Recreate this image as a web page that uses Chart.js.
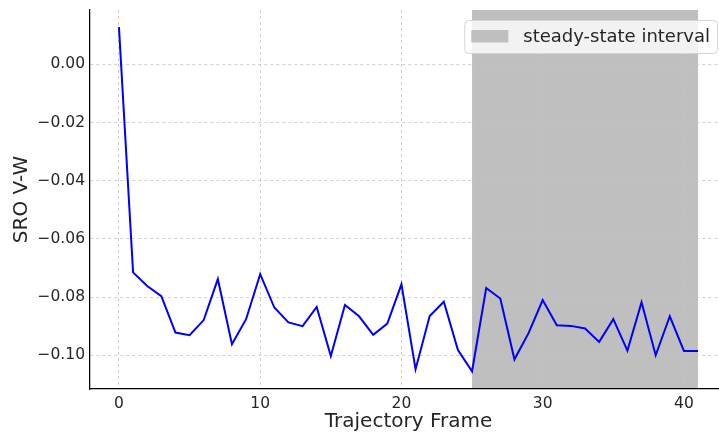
<!DOCTYPE html>
<html>
<head>
<meta charset="utf-8">
<script src="https://cdn.jsdelivr.net/npm/chart.js@4/dist/chart.umd.min.js"></script>
<style>
    html, body { margin: 0; padding: 0; overflow: hidden; background: #fff; }
    #wrap { width: 727px; height: 434px; }
</style>
</head>
<body>
<div id="wrap"><canvas id="chart"></canvas></div>
<script>
// trajectory frames and SRO values
const frames = [0, 1, 2, 3, 4, 5, 6, 7, 8, 9, 10, 11, 12, 13, 14, 15, 16, 17, 18, 19, 20,
    21, 22, 23, 24, 25, 26, 27, 28, 29, 30, 31, 32, 33, 34, 35, 36, 37, 38, 39, 40, 41]
const sroValues = [0.0128, -0.0715, -0.0762, -0.0797, -0.0922, -0.0931, -0.0879, -0.0738,
    -0.0962, -0.0876, -0.0721, -0.0836, -0.0887, -0.0900, -0.0834, -0.1003, -0.0827,
    -0.0866, -0.0930, -0.0891, -0.0756, -0.1048, -0.0865, -0.0816, -0.0982, -0.1055,
    -0.0769, -0.0805, -0.1014, -0.0924, -0.0810, -0.0897, -0.0899, -0.0908, -0.0954,
    -0.0876, -0.0984, -0.0818, -0.1000, -0.0866, -0.0985, -0.0985]

const steadyStart = 25
const steadyEnd = 41
const legendLabel = 'steady-state interval'

const xTicks = [0, 10, 20, 30, 40]
const yTicks = [0.00, -0.02, -0.04, -0.06, -0.08, -0.10]

const FONT = 'DejaVu Sans'
const TEXT = '#262626'

// grey band behind the grid, like axvspan
const spanPlugin = {
    id: 'steadySpan',
    beforeDraw(chart) {
        const { ctx, chartArea, scales } = chart
        const x0 = scales.x.getPixelForValue(steadyStart)
        const x1 = scales.x.getPixelForValue(steadyEnd)
        ctx.save()
        ctx.fillStyle = '#bfbfbf'
        ctx.fillRect(x0, chartArea.top, x1 - x0, chartArea.bottom - chartArea.top)
        ctx.restore()
    }
}

// legend box in the upper right corner of the plot
const legendPlugin = {
    id: 'boxLegend',
    afterDraw(chart) {
        const { ctx, chartArea } = chart
        ctx.save()
        ctx.font = `18px "${FONT}"`
        const textW = ctx.measureText(legendLabel).width
        const w = 7 + 37 + 15 + textW + 7
        const h = 33
        const right = chartArea.right - 10
        const left = right - w
        const top = chartArea.top + 10

        ctx.beginPath()
        ctx.roundRect(left + 0.5, top + 0.5, w, h, 4)
        ctx.fillStyle = 'rgba(255,255,255,0.8)'
        ctx.fill()
        ctx.strokeStyle = '#d4d4d4'
        ctx.lineWidth = 1
        ctx.stroke()

        ctx.fillStyle = '#bfbfbf'
        ctx.fillRect(left + 7, top + 10, 37, 12.5)

        ctx.fillStyle = TEXT
        ctx.textBaseline = 'middle'
        ctx.fillText(legendLabel, left + 59, top + h / 2 + 0.5)
        ctx.restore()
    }
}

const fmtY = v => v.toFixed(2).replace('-', '\u2212')

new Chart(document.getElementById('chart'), {
    type: 'line',
    data: {
        labels: frames,
        datasets: [{
            label: 'SRO V-W',
            data: frames.map((f, i) => ({ x: f, y: sroValues[i] })),
            borderColor: '#0000ff',
            borderWidth: 2,
            pointRadius: 0,
            tension: 0,
            fill: false
        }]
    },
    options: {
        responsive: true,
        maintainAspectRatio: false,
        animation: false,
        layout: { padding: { top: 10, right: 0, left: 0, bottom: 0 } },
        plugins: {
            legend: { display: false },
            tooltip: { enabled: false }
        },
        scales: {
            x: {
                type: 'linear',
                min: -2.05,
                max: 43.05,
                afterBuildTicks: scale => { scale.ticks = xTicks.map(v => ({ value: v })) },
                afterFit: scale => {
                    scale.height = 45
                    scale.paddingLeft = 0
                    scale.paddingRight = 0
                },
                grid: { color: '#c4c4c4', lineWidth: 0.8, drawTicks: false },
                border: { display: true, color: '#000', width: 1.25, dash: [3, 3] },
                ticks: {
                    padding: 6,
                    color: TEXT,
                    font: { family: FONT, size: 15.5 },
                    maxRotation: 0,
                    callback: v => String(v)
                },
                title: {
                    display: true,
                    text: 'Trajectory Frame',
                    color: TEXT,
                    font: { family: FONT, size: 20 },
                    padding: { top: 2, bottom: 0 }
                }
            },
            y: {
                type: 'linear',
                min: -0.1116,
                max: 0.0187,
                afterBuildTicks: scale => { scale.ticks = yTicks.map(v => ({ value: v })) },
                afterFit: scale => {
                    scale.width = 90
                    scale.paddingTop = 0
                    scale.paddingBottom = 0
                },
                grid: { color: '#c4c4c4', lineWidth: 0.8, drawTicks: false },
                border: { display: true, color: '#000', width: 1.25, dash: [3, 3] },
                ticks: {
                    padding: 5,
                    color: TEXT,
                    font: { family: FONT, size: 15.5 },
                    callback: v => fmtY(v)
                },
                title: {
                    display: true,
                    text: 'SRO V-W',
                    color: TEXT,
                    font: { family: FONT, size: 20 },
                    padding: { top: 10, bottom: 0 }
                }
            }
        }
    },
    plugins: [spanPlugin, legendPlugin]
})
</script>
</body>
</html>
